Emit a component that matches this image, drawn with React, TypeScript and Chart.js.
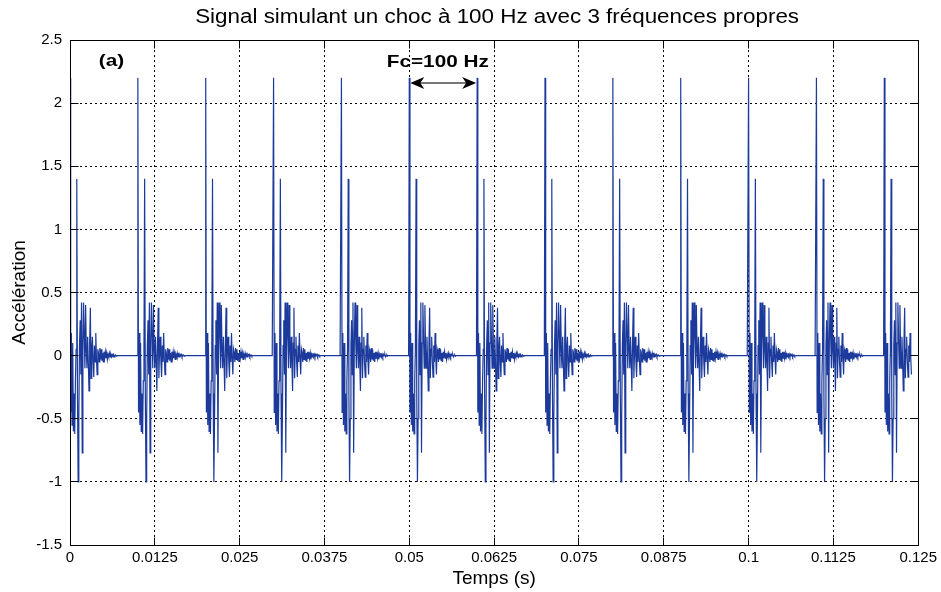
import React, { useEffect, useRef } from "react";
import { Chart, registerables } from "chart.js";

Chart.register(...registerables);

const TITLE = "Signal simulant un choc à 100 Hz avec 3 fréquences propres";
const X_LABEL = "Temps (s)";
const Y_LABEL = "Accélération";

const X_TICKS = [0, 0.0125, 0.025, 0.0375, 0.05, 0.0625, 0.075, 0.0875, 0.1, 0.1125, 0.125];
const X_TICK_LABELS = ["0", "0.0125", "0.025", "0.0375", "0.05", "0.0625", "0.075", "0.0875", "0.1", "0.1125", "0.125"];
const Y_TICKS = [-1.5, -1, -0.5, 0, 0.5, 1, 1.5, 2, 2.5];

// sampling of the simulated signal (s)
const SAMPLE_STEP = 0.0001;
const END_TIME = 0.124;

// instants of the shocks (s)
const SHOCK_TIMES = [0, 0.01, 0.02, 0.03, 0.04, 0.05, 0.06, 0.07, 0.08, 0.09, 0.1, 0.11, 0.12];

// response to one shock, one value per sample
const SHOCK_RESPONSE = [
  2.2, -0.45, 0.18, -0.55, 0.1, -0.6, -0.3, -0.62, -0.2, 0.05,
  1.4, -0.3, -1.0, -0.5, 0.08, 0.28, -0.15, 0.42, -0.77, 0.1,
  0.42, 0.14, -0.1, 0.4, 0.05, -0.1, 0.15, -0.05, -0.28, 0.1,
  0.38, -0.18, 0.05, 0.15, -0.05, -0.17, 0.08, -0.05, 0.18, -0.02,
  -0.15, 0.05, 0.02, -0.05, 0.06, -0.03, 0.05, -0.04, 0.02, -0.05,
  0.03, -0.02, 0.03, -0.02, 0.02, -0.03, 0.01, -0.01, 0.02, -0.01,
  0.01, -0.01, 0.01, 0, 0.01, -0.01, 0, 0.005, -0.005, 0, 0,
];

// annotations (data coordinates)
const LABEL_A = { text: "(a)", x: 0.0061, y: 2.33 };
const LABEL_FC = { text: "Fc=100 Hz", x: 0.0542, y: 2.325 };
const ARROW = { x1: 0.05, x2: 0.06, y: 2.16 };

const FONT = '"Liberation Sans", Arial, Helvetica, sans-serif';

function buildSignal() {
  const n = Math.round(END_TIME / SAMPLE_STEP);
  const starts = SHOCK_TIMES.map((t) => Math.round(t / SAMPLE_STEP));
  const pts: { x: number; y: number }[] = [];
  for (let k = 0; k <= n; k++) {
    let v = 0;
    for (const s of starts) {
      const j = k - s;
      if (j >= 0 && j < SHOCK_RESPONSE.length) v += SHOCK_RESPONSE[j];
    }
    pts.push({ x: k * SAMPLE_STEP, y: v });
  }
  return pts;
}

const framePlugin = {
  id: "matlabFrame",
  afterDraw(chart: any) {
    const { ctx, chartArea, scales } = chart;
    const { left, right, top, bottom } = chartArea;
    const xs = scales.x;
    const ys = scales.y;
    const al = (p: number) => Math.round(p - 0.5) + 0.5;
    ctx.save();
    ctx.setLineDash([]);
    ctx.strokeStyle = "#000";
    ctx.lineWidth = 1;
    ctx.beginPath();
    const tl = 8;
    X_TICKS.forEach((v) => {
      const px = al(xs.getPixelForValue(v));
      ctx.moveTo(px, al(bottom));
      ctx.lineTo(px, al(bottom) - tl);
      ctx.moveTo(px, al(top));
      ctx.lineTo(px, al(top) + tl);
    });
    Y_TICKS.forEach((v) => {
      const py = al(ys.getPixelForValue(v));
      ctx.moveTo(al(left), py);
      ctx.lineTo(al(left) + tl, py);
      ctx.moveTo(al(right), py);
      ctx.lineTo(al(right) - tl, py);
    });
    ctx.stroke();
    ctx.strokeRect(al(left), al(top), al(right) - al(left), al(bottom) - al(top));

    // title
    ctx.fillStyle = "#000";
    ctx.textAlign = "center";
    ctx.textBaseline = "alphabetic";
    ctx.font = `20px ${FONT}`;
    ctx.save();
    ctx.translate((left + right) / 2 + 3, 23);
    ctx.scale(1.12, 1);
    ctx.fillText(TITLE, 0, 0);
    ctx.restore();

    // annotations
    ctx.font = `bold 17px ${FONT}`;
    ctx.textBaseline = "middle";
    [LABEL_A, LABEL_FC].forEach((l) => {
      ctx.save();
      ctx.translate(xs.getPixelForValue(l.x), ys.getPixelForValue(l.y));
      ctx.scale(1.22, 1);
      ctx.fillText(l.text, 0, 0);
      ctx.restore();
    });

    // double arrow
    const ax1 = xs.getPixelForValue(ARROW.x1) + 1;
    const ax2 = xs.getPixelForValue(ARROW.x2) - 1;
    const ay = ys.getPixelForValue(ARROW.y);
    ctx.strokeStyle = "#777";
    ctx.lineWidth = 2;
    ctx.beginPath();
    ctx.moveTo(ax1 + 8, ay);
    ctx.lineTo(ax2 - 8, ay);
    ctx.stroke();
    ctx.fillStyle = "#000";
    const head = (x: number, dir: number) => {
      ctx.beginPath();
      ctx.moveTo(x, ay);
      ctx.lineTo(x + dir * 14, ay - 6);
      ctx.lineTo(x + dir * 10, ay);
      ctx.lineTo(x + dir * 14, ay + 6);
      ctx.closePath();
      ctx.fill();
    };
    head(ax1, 1);
    head(ax2, -1);
    ctx.restore();
  },
};

export default function App() {
  const ref = useRef<HTMLCanvasElement>(null);
  useEffect(() => {
    if (!ref.current) return;
    const chart = new Chart(ref.current, {
      type: "line",
      data: {
        datasets: [
          {
            data: buildSignal(),
            borderColor: "#1b3a9c",
            borderWidth: 1.2,
            pointRadius: 0,
            tension: 0,
            fill: false,
          },
        ],
      },
      options: {
        animation: false,
        responsive: false,
        devicePixelRatio: 1,
        layout: { padding: { top: 40, right: 21, left: 0, bottom: 0 } },
        plugins: { legend: { display: false }, tooltip: { enabled: false }, title: { display: false } },
        scales: {
          x: {
            type: "linear",
            min: 0,
            max: 0.125,
            afterFit: (s: any) => {
              s.height = 47;
            },
            afterBuildTicks: (s: any) => {
              s.ticks = X_TICKS.map((v) => ({ value: v }));
            },
            grid: { color: "#000", lineWidth: 1, drawTicks: false },
            border: { display: false, dash: [2, 3] },
            ticks: {
              color: "#000",
              font: { family: FONT, size: 15 },
              padding: 4,
              autoSkip: false,
              maxRotation: 0,
              callback: (_v: any, i: number) => X_TICK_LABELS[i],
            },
            title: {
              display: true,
              text: X_LABEL,
              color: "#000",
              font: { family: FONT, size: 19 },
              padding: { top: 0, bottom: 2 },
            },
          },
          y: {
            type: "linear",
            min: -1.5,
            max: 2.5,
            afterFit: (s: any) => {
              s.width = 70;
            },
            afterBuildTicks: (s: any) => {
              s.ticks = Y_TICKS.map((v) => ({ value: v }));
            },
            grid: { color: "#000", lineWidth: 1, drawTicks: false },
            border: { display: false, dash: [2, 3] },
            ticks: {
              color: "#000",
              font: { family: FONT, size: 15 },
              padding: 8,
              callback: (v: any) => String(v),
            },
            title: {
              display: true,
              text: Y_LABEL,
              color: "#000",
              font: { family: FONT, size: 19 },
              padding: { top: 8, bottom: 0 },
            },
          },
        },
      },
      plugins: [framePlugin],
    });
    return () => chart.destroy();
  }, []);
  return (
    <div style={{ position: "absolute", left: 0, top: 0, width: 941, height: 592, background: "#fff" }}>
      <canvas ref={ref} width={941} height={592} style={{ display: "block" }} />
    </div>
  );
}
